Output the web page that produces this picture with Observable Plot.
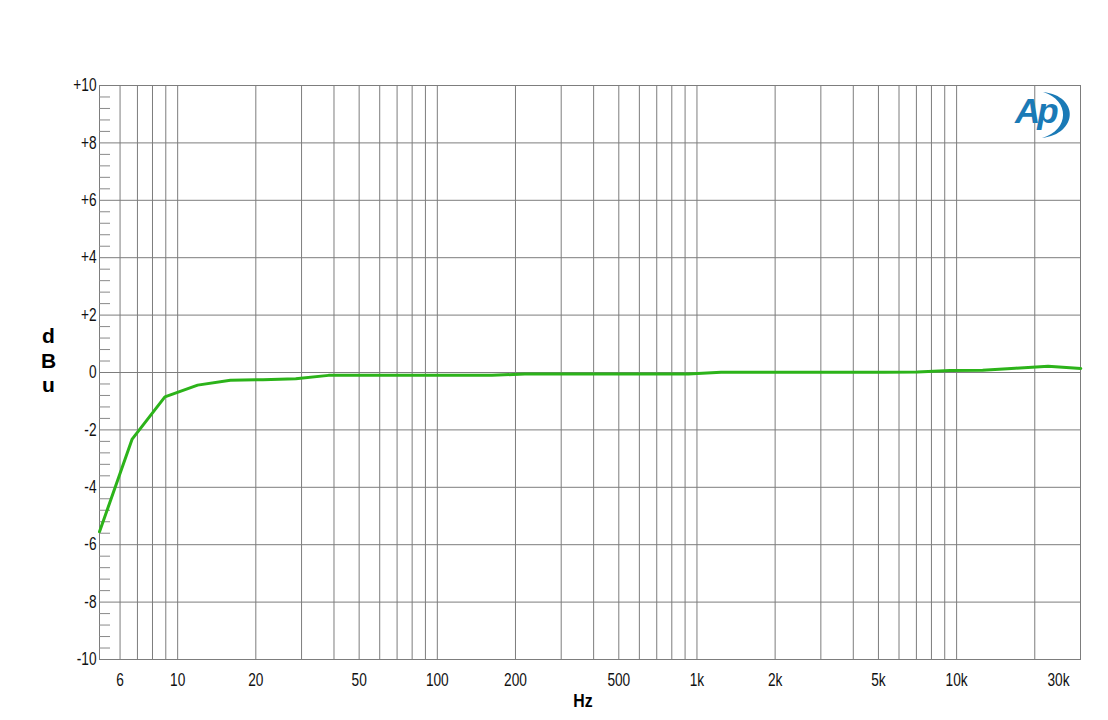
<!DOCTYPE html>
<html>
<head>
<meta charset="utf-8">
<script src="https://cdn.jsdelivr.net/npm/d3@7"></script>
<script src="https://cdn.jsdelivr.net/npm/@observablehq/plot@0.6"></script>
<style>
  html, body { margin: 0; padding: 0; background: #ffffff; }
  #chart svg { display: block; }
</style>
</head>
<body>
<div id="chart"></div>
<script>
// Frequency (Hz) of each sweep point
const freqs = [5, 6.68, 8.93, 11.94, 15.96, 21.3, 28.5, 38.1, 50.9, 68.0, 90.9, 121.5, 162.4, 217, 290, 388, 518, 693, 926, 1238, 1654, 2211, 2955, 3950, 5279, 7055, 9430, 12600, 16840, 22510, 30080];
// Level (dBu) at each sweep point
const dBu = [-5.55, -2.32, -0.85, -0.44, -0.27, -0.25, -0.22, -0.10, -0.10, -0.10, -0.10, -0.10, -0.10, -0.05, -0.05, -0.05, -0.05, -0.05, -0.05, 0.01, 0.01, 0.01, 0.01, 0.01, 0.01, 0.02, 0.07, 0.08, 0.15, 0.22, 0.14];

// Axis ticks and gridlines
const xDomain = [5, 30000];
const yDomain = [-10, 10];
const xGrid = [6, 7, 8, 9, 10, 20, 30, 40, 50, 60, 70, 80, 90, 100, 200, 300, 400, 500, 600, 700, 800, 900, 1000, 2000, 3000, 4000, 5000, 6000, 7000, 8000, 9000, 10000, 20000];
const xTickValues = [6, 10, 20, 50, 100, 200, 500, 1000, 2000, 5000, 10000];
const xTickLabels = ["6", "10", "20", "50", "100", "200", "500", "1k", "2k", "5k", "10k"];
const xLastTick = [30000];
const xLastLabel = ["30k"];
const yMajor = [-10, -8, -6, -4, -2, 0, 2, 4, 6, 8, 10];
const yMajorLabels = ["-10", "-8", "-6", "-4", "-2", "0", "+2", "+4", "+6", "+8", "+10"];
const yMinor = [];
for (let i = 0; i < yMajor.length - 1; i++) {
  for (const f of [0.4, 0.8, 1.2, 1.6]) yMinor.push(+(yMajor[i] + f).toFixed(1));
}
const yLabel = "d\nB\nu";
const xLabel = "Hz";

const data = freqs.map((f, i) => ({f, db: dBu[i]}));
const sans = "'Liberation Sans', Arial, sans-serif";
const gridColor = "#7d7d7d";

const svg = Plot.plot({
  width: 1108,
  height: 720,
  marginLeft: 99,
  marginRight: 28,
  marginTop: 85,
  marginBottom: 61,
  style: {background: "#ffffff", fontFamily: sans, overflow: "visible"},
  x: {type: "log", domain: xDomain, axis: null},
  y: {domain: yDomain},
  marks: [
    Plot.gridX(xGrid, {stroke: gridColor, strokeOpacity: 1, strokeWidth: 1}),
    Plot.gridY(yMajor, {stroke: gridColor, strokeOpacity: 1, strokeWidth: 1}),
    Plot.frame({stroke: gridColor, strokeWidth: 1}),
    Plot.axisY(yMinor, {anchor: "left", tickSize: 11, dx: 11, text: null, stroke: "#8a8a8a", label: null}),
    Plot.axisY(yMajor, {
      anchor: "left", tickSize: 0, tickPadding: 3, label: null,
      tickFormat: d => yMajorLabels[yMajor.indexOf(d)],
      fontSize: 18, fill: "#111", fontFamily: sans
    }),
    Plot.text(xTickValues, {
      x: d => d, frameAnchor: "bottom", dy: 26,
      text: d => xTickLabels[xTickValues.indexOf(d)],
      fontSize: 18, fill: "#111", fontFamily: sans
    }),
    Plot.text(xLastTick, {
      x: d => d, frameAnchor: "bottom", dy: 26, dx: -22,
      text: d => xLastLabel[xLastTick.indexOf(d)],
      fontSize: 18, fill: "#111", fontFamily: sans
    }),
    Plot.line(data, {x: "f", y: "db", stroke: "#2cb31a", strokeWidth: 3}),
    Plot.text([yLabel], {frameAnchor: "left", dx: -51, dy: -13, lineHeight: 1.19, fontSize: 21, fontWeight: "bold", fill: "#000", textAnchor: "middle", fontFamily: sans}),
    Plot.text([xLabel], {frameAnchor: "bottom", dx: -7, dy: 47, fontSize: 18, fontWeight: "bold", fill: "#000", fontFamily: sans})
  ]
});

document.getElementById("chart").appendChild(svg);

// Narrow the tick labels to match the condensed face of the original
function condense(nodes, ratio) {
  nodes.forEach(t => {
    const L = t.getComputedTextLength();
    if (L > 0) {
      t.setAttribute("textLength", (L * ratio).toFixed(2));
      t.setAttribute("lengthAdjust", "spacingAndGlyphs");
    }
  });
}
const textGroups = svg.querySelectorAll(':scope > g[aria-label="text"]');
condense(svg.querySelectorAll('g[aria-label="y-axis tick label"] text'), 0.76);
condense(textGroups[0].querySelectorAll("text"), 0.76);
condense(textGroups[1].querySelectorAll("text"), 0.76);
condense(textGroups[3].querySelectorAll("text"), 0.88);

// Audio Precision logo (decoration)
const logo = d3.select(svg).append("g").attr("fill", "#1a7ab6");
logo.append("path").attr("d", "M1043,92 C1080,96 1078,134 1042,138 C1070,130 1070,100 1043,92Z");
logo.append("text")
  .attr("x", 1015).attr("y", 123)
  .attr("text-anchor", "start")
  .attr("font-family", sans)
  .attr("font-style", "italic").attr("font-weight", "bold")
  .attr("font-size", 35).attr("letter-spacing", -3)
  .text("Ap");
</script>
</body>
</html>
